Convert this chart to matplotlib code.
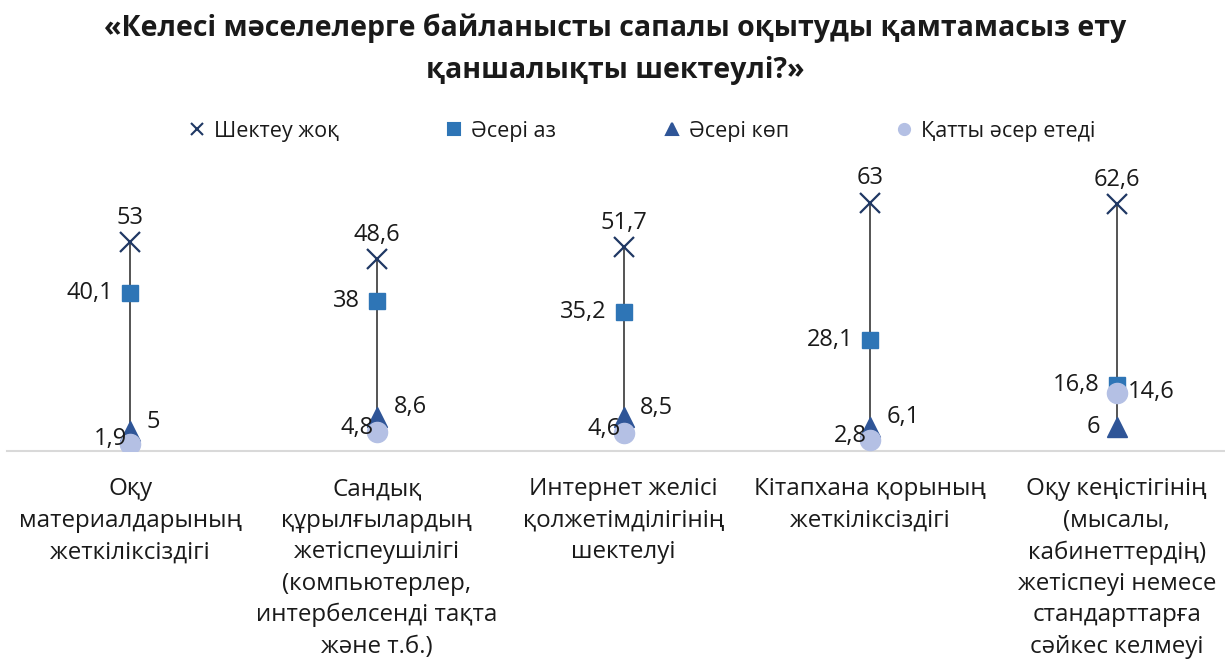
import matplotlib
matplotlib.use('Agg')
import matplotlib.pyplot as plt
from matplotlib.lines import Line2D

plt.rcParams['font.family'] = ['Open Sans', 'Noto Sans', 'DejaVu Sans']

# Санаттар мен серия мәндері (%)
categories = [
    'Оқу\nматериалдарының\nжеткіліксіздігі',
    'Сандық\nқұрылғылардың\nжетіспеушілігі\n(компьютерлер,\nинтербелсенді тақта\nжәне т.б.)',
    'Интернет желісі\nқолжетімділігінің\nшектелуі',
    'Кітапхана қорының\nжеткіліксіздігі',
    'Оқу кеңістігінің\n(мысалы,\nкабинеттердің)\nжетіспеуі немесе\nстандарттарға\nсәйкес келмеуі',
]
no_limit = [53, 48.6, 51.7, 63, 62.6]
little_effect = [40.1, 38, 35.2, 28.1, 16.8]
big_effect = [5, 8.6, 8.5, 6.1, 6]
strong_effect = [1.9, 4.8, 4.6, 2.8, 14.6]

series_names = ['Шектеу жоқ', 'Әсері аз', 'Әсері көп', 'Қатты әсер етеді']

title = '«Келесі мәселелерге байланысты сапалы оқытуды қамтамасыз ету\nқаншалықты шектеулі?»'


def fmt(v):
    return f'{v:g}'.replace('.', ',')


fig = plt.figure(figsize=(12.25, 6.59), dpi=100)
ax = fig.add_axes([7 / 1225, 1 - 451 / 659, 1233 / 1225, 0.4188])

x = list(range(len(categories)))
series = [no_limit, little_effect, big_effect, strong_effect]

# жоғары-төмен сызықтары
for i in x:
    vals = [s[i] for s in series]
    ax.plot([i, i], [min(vals), max(vals)], color='#262626', lw=1.1, zorder=1)

styles = [
    dict(marker='x', color='#1F3864', ms=14, mew=1.6),
    dict(marker='s', color='#2E75B6', ms=12),
    dict(marker='^', color='#2F5597', ms=14),
    dict(marker='o', color='#B4C0E4', ms=14.5),
]
for k, (vals, st) in enumerate(zip(series, styles)):
    ax.plot(x, vals, linestyle='none', zorder=2 + k, **st)

# мән белгілері: (dx, dy, ha, va) нүктемен
place = [
    (0, 9, 'center', 'bottom'),
    (-12, 0, 'right', 'center'),
    (12, 7, 'left', 'center'),
    (-2, 3, 'right', 'center'),
]
override = {
    (2, 4): (-12, 0, 'right', 'center'),
    (3, 4): (8, 1, 'left', 'center'),
}
for k, vals in enumerate(series):
    for i, v in enumerate(vals):
        dx, dy, ha, va = override.get((k, i), place[k])
        ax.annotate(fmt(v), (i, v), xytext=(dx, dy), textcoords='offset points',
                    ha=ha, va=va, fontsize=17, color='#1a1a1a', zorder=10)

ax.set_xlim(-0.5, 4.5)
ax.set_ylim(0, 70)
ax.set_yticks([])
for side in ['left', 'right', 'top']:
    ax.spines[side].set_visible(False)
ax.spines['bottom'].set_color('#D9D9D9')
ax.spines['bottom'].set_linewidth(1.5)
ax.set_xticks(x)
ax.set_xticklabels(categories, fontsize=17.4, color='#1a1a1a', linespacing=1.41)
ax.tick_params(axis='x', length=0, pad=19)

fig.text(0.502, 1 - 49 / 659, title, ha='center', va='center', fontsize=20.5,
         fontweight='bold', color='#1a1a1a', linespacing=1.58)

handles = [Line2D([], [], linestyle='none', marker=st['marker'], color=st['color'],
                  ms=8, mew=1.5)
           for st in styles]
fig.legend(handles, series_names, loc='center', bbox_to_anchor=(642 / 1225, 1 - 131 / 659),
           ncol=4, frameon=False, fontsize=15.5, handlelength=0.8, handletextpad=0.4,
           columnspacing=4.95, labelcolor='#1a1a1a')

fig.savefig('out.png', dpi=100)
